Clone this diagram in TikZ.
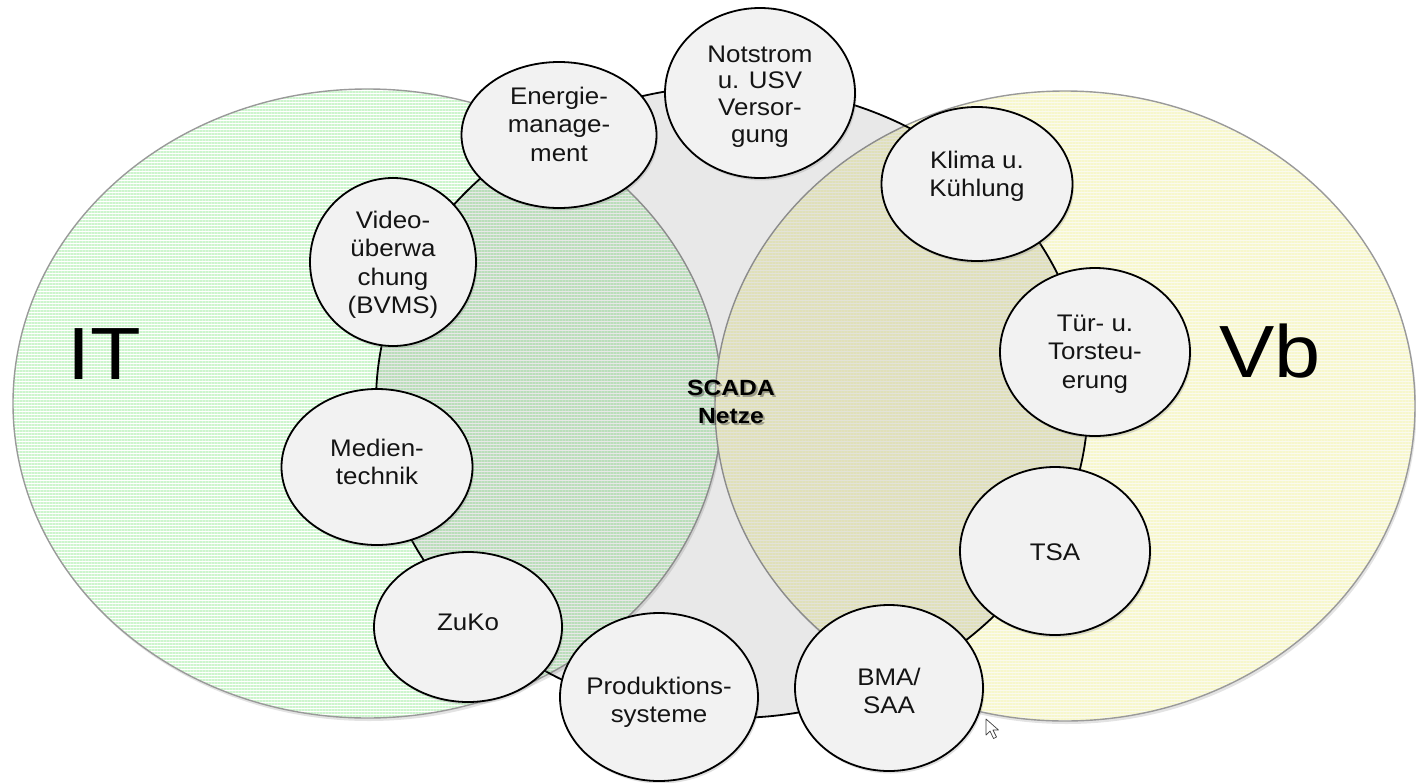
\documentclass[tikz,border=0pt]{standalone}
\usepackage{fontspec}
\setmainfont{Liberation Sans}
\newfontfamily\bubfont[FakeStretch=1.08]{Liberation Sans}
\newfontfamily\widefont[FakeStretch=1.12]{Liberation Sans}
\usetikzlibrary{shapes.geometric,shadows,patterns.meta}

\definecolor{stripegreen}{HTML}{CDF5CD}
\definecolor{stripeyellow}{HTML}{F7F7CC}
\definecolor{baseyellow}{HTML}{FAFAEE}
\definecolor{areaedge}{HTML}{9A9A9A}
\definecolor{bubblefill}{HTML}{F2F2F2}
\definecolor{inktext}{HTML}{141414}

\tikzset{
  area/.style={draw=areaedge, line width=1.4pt,
    drop shadow={shadow xshift=1.5pt, shadow yshift=-3pt, opacity=0.22}},
  itarea/.style={area, preaction={fill=white},
    pattern={Lines[angle=0,distance=3pt,line width=1.5pt]}, pattern color=stripegreen},
  vbarea/.style={area, preaction={fill=baseyellow},
    pattern={Lines[angle=0,distance=3pt,line width=1.5pt]}, pattern color=stripeyellow},
  ring/.style={draw=black, line width=1.8pt, fill=black, fill opacity=0.09},
  bubble/.style={ellipse, draw=black, line width=1.8pt, fill=bubblefill, inner sep=0pt,
    drop shadow={shadow xshift=1.5pt, shadow yshift=-2.5pt, opacity=0.25}},
  bubtext/.style={anchor=north, align=center, inner sep=0pt, text=inktext,
    font=\bubfont\fontsize{24}{28.5}\selectfont},
  bigtext/.style={anchor=base, inner sep=0pt, text=black,
    font=\widefont\fontsize{74}{80}\selectfont},
  centretext/.style={anchor=north, align=center, inner sep=0pt,
    font=\widefont\bfseries\fontsize{22}{28}\selectfont},
}
\newcommand{\fl}{\rule{0pt}{18pt}}

\begin{document}
\begin{tikzpicture}[x=1pt,y=-1pt]
\useasboundingbox (0,0) rectangle (1416,782);

% the two domains
\path[itarea] (367.5,403.5) ellipse [x radius=354.5pt, y radius=314.5pt];
\path[vbarea] (1065,406) ellipse [x radius=350pt, y radius=315pt];

% shared ring that links all subsystems
\path[ring] (732,402) ellipse [x radius=356pt, y radius=316pt];

% domain labels
\node[bigtext] (it) at (104,379) {IT};
\node[bigtext] (vb) at (1270,377) {Vb};

% centre label with soft shadow
\node[centretext, text=black, opacity=0.3] (scadashadow) at (733,381) {\rule{0pt}{16pt}SCADA\\Netze};
\node[centretext, text=black] (scada) at (731,379) {\rule{0pt}{16pt}SCADA\\Netze};

% subsystems on the ring
\node[bubble, minimum width=195pt, minimum height=146pt] (ener)   at (559,135) {};
\node[bubble, minimum width=190pt, minimum height=170pt] (notst)  at (760,93)  {};
\node[bubble, minimum width=191pt, minimum height=154pt] (klima)  at (977,184) {};
\node[bubble, minimum width=190pt, minimum height=168pt] (tuer)   at (1095,352) {};
\node[bubble, minimum width=190pt, minimum height=168pt] (tsa)    at (1055,551) {};
\node[bubble, minimum width=188pt, minimum height=166pt] (bma)    at (889,688) {};
\node[bubble, minimum width=198pt, minimum height=168pt] (prod)   at (659,697) {};
\node[bubble, minimum width=188pt, minimum height=150pt] (zuko)   at (468,627) {};
\node[bubble, minimum width=191pt, minimum height=156pt] (medien) at (377,467) {};
\node[bubble, minimum width=166pt, minimum height=168pt] (video)  at (393,262) {};

\node[bubtext] (ener-t)   at (559,86)   {\fl Energie-\\manage-\\ment};
\node[bubtext, font=\bubfont\fontsize{24}{26.7}\selectfont] (notst-t) at (760,44) {\fl Notstrom\\u. USV\\Versor-\\gung};
\node[bubtext] (klima-t)  at (977,150)  {\fl Klima u.\\Kühlung};
\node[bubtext] (tuer-t)   at (1095,313) {\fl Tür- u.\\Torsteu-\\erung};
\node[bubtext] (tsa-t)    at (1055,542) {\fl TSA};
\node[bubtext] (bma-t)    at (889,667)  {\fl BMA/\\SAA};
\node[bubtext] (prod-t)   at (659,676)  {\fl Produktions-\\systeme};
\node[bubtext] (zuko-t)   at (468,612)  {\fl ZuKo};
\node[bubtext] (medien-t) at (377,438)  {\fl Medien-\\technik};
\node[bubtext] (video-t)  at (393,210)  {\fl Video-\\überwa\\chung\\(BVMS)};

% mouse pointer
\draw[draw=black!75, fill=white, line width=0.7pt, line join=round]
  (986,719) -- (986,735) -- (990,731) -- (993.5,738.5) -- (996.5,737) -- (993,730) -- (998.5,730) -- cycle;
\end{tikzpicture}
\end{document}
